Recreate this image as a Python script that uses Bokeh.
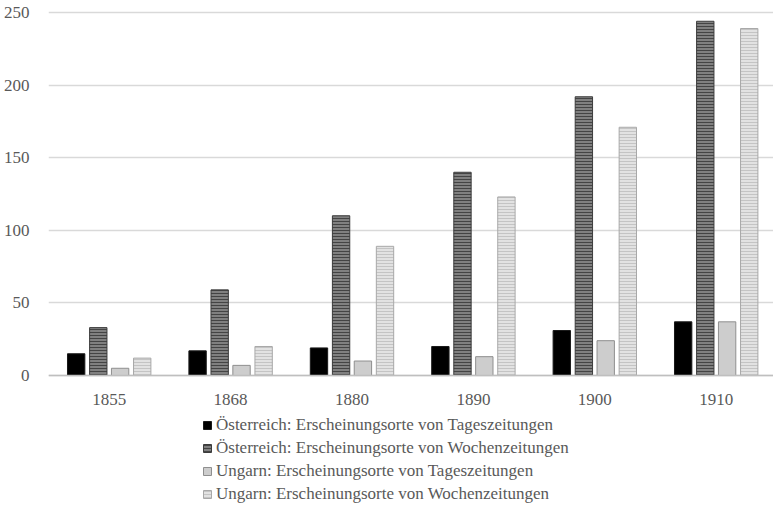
from bokeh.plotting import figure
from bokeh.models import Range1d, FixedTicker, Legend, LegendItem
from bokeh.embed import file_html
from bokeh.resources import INLINE

years = ["1855", "1868", "1880", "1890", "1900", "1910"]
series_names = [
    "Österreich: Erscheinungsorte von Tageszeitungen",
    "Österreich: Erscheinungsorte von Wochenzeitungen",
    "Ungarn: Erscheinungsorte von Tageszeitungen",
    "Ungarn: Erscheinungsorte von Wochenzeitungen",
]
oe_tages = [15, 17, 19, 20, 31, 37]
oe_wochen = [33, 59, 110, 140, 192, 244]
hu_tages = [5, 7, 10, 13, 24, 37]
hu_wochen = [12, 20, 89, 123, 171, 239]
y_ticks = [0, 50, 100, 150, 200, 250]

values = [oe_tages, oe_wochen, hu_tages, hu_wochen]
offsets = [-0.272, -0.09, 0.09, 0.272]
styles = [
    dict(fill_color="#000000", line_color="#1a1a1a"),
    dict(fill_color="#808080", line_color="#3c3c3c", hatch_pattern="-",
         hatch_color="#444444", hatch_scale=3, hatch_weight=1),
    dict(fill_color="#cdcdcd", line_color="#8f8f8f"),
    dict(fill_color="#e2e2e2", line_color="#a8a8a8", hatch_pattern="-",
         hatch_color="#c4c4c4", hatch_scale=3, hatch_weight=1),
]

FONT = "Liberation Serif"
TXT = "#595959"

p = figure(width=773, height=506, output_backend="svg",
           toolbar_location=None,
           x_range=Range1d(-0.5, 5.472), y_range=Range1d(-90.2, 258.3),
           min_border_left=48, min_border_right=0, min_border_top=0,
           min_border_bottom=0)
p.outline_line_color = None
p.background_fill_color = "white"

xs = list(range(len(years)))
renderers = []
for vals, off, st in zip(values, offsets, styles):
    r = p.vbar(x=[x + off for x in xs], top=vals, bottom=0, width=0.143,
               line_width=1, **st)
    renderers.append(r)

p.xgrid.visible = False
p.ygrid.grid_line_color = "#d9d9d9"
p.ygrid.grid_line_width = 1.5
p.ygrid.ticker = FixedTicker(ticks=y_ticks)

p.yaxis.ticker = FixedTicker(ticks=y_ticks)
p.yaxis.axis_line_color = None
p.yaxis.major_tick_line_color = None
p.yaxis.minor_tick_line_color = None
p.yaxis.major_label_text_font = FONT
p.yaxis.major_label_text_font_size = "17px"
p.yaxis.major_label_text_color = TXT
p.yaxis.major_label_standoff = 13

p.xaxis.fixed_location = 0
p.xaxis.ticker = FixedTicker(ticks=xs)
p.xaxis.major_label_overrides = {i: y for i, y in zip(xs, years)}
p.xaxis.axis_line_color = "#bfbfbf"
p.xaxis.axis_line_width = 1.5
p.xaxis.major_tick_line_color = None
p.xaxis.minor_tick_line_color = None
p.xaxis.major_label_text_font = FONT
p.xaxis.major_label_text_font_size = "17px"
p.xaxis.major_label_text_color = TXT
p.xaxis.major_label_standoff = 12

items = [LegendItem(label=n, renderers=[r]) for n, r in zip(series_names, renderers)]
legend = Legend(items=items, location=(154, 2), orientation="vertical",
                label_text_font=FONT, label_text_font_size="17px",
                label_text_color=TXT, glyph_width=10, glyph_height=10,
                label_standoff=4, spacing=3, padding=0, margin=0,
                border_line_color=None, background_fill_alpha=0,
                label_height=18)
p.add_layout(legend, "center")

open("out.html", "w").write(file_html(p, INLINE))
